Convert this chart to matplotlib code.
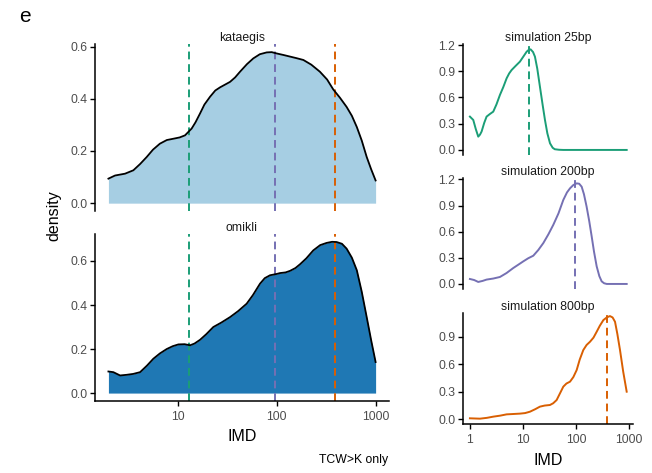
import numpy as np
import matplotlib
matplotlib.use('Agg')
import matplotlib.pyplot as plt

plt.rcParams['font.family'] = ['Liberation Sans', 'DejaVu Sans']

# IMD positions are stored as log10 values, densities as read along each curve
KAT_LOGX = [0.30, 0.367, 0.468, 0.552, 0.62, 0.687, 0.75, 0.82, 0.89, 0.956, 1.02, 1.074,
            1.141, 1.18, 1.226, 1.27, 1.327, 1.38, 1.428, 1.529, 1.58, 1.63, 1.70, 1.764,
            1.83, 1.90, 1.95, 2.0, 2.07, 2.135, 2.20, 2.27, 2.35, 2.437, 2.51, 2.572,
            2.64, 2.707, 2.76, 2.81, 2.86, 2.91, 2.955, 3.0]
KAT_DENS = [0.094, 0.106, 0.113, 0.126, 0.15, 0.177, 0.205, 0.228, 0.242, 0.247, 0.252, 0.26,
            0.286, 0.31, 0.344, 0.378, 0.408, 0.432, 0.444, 0.465, 0.482, 0.504, 0.533, 0.555,
            0.571, 0.578, 0.579, 0.574, 0.568, 0.562, 0.556, 0.549, 0.531, 0.504, 0.474, 0.436,
            0.404, 0.369, 0.335, 0.292, 0.24, 0.177, 0.13, 0.087]

OMK_LOGX = [0.30, 0.35, 0.418, 0.485, 0.55, 0.62, 0.69, 0.754, 0.82, 0.889, 0.95, 1.007,
            1.07, 1.125, 1.17, 1.226, 1.29, 1.36, 1.44, 1.529, 1.61, 1.697, 1.76, 1.832,
            1.88, 1.933, 2.0, 2.034, 2.09, 2.135, 2.19, 2.236, 2.30, 2.37, 2.44, 2.505,
            2.56, 2.606, 2.66, 2.707, 2.76, 2.81, 2.86, 2.91, 2.955, 3.0]
OMK_DENS = [0.098, 0.095, 0.080, 0.083, 0.087, 0.095, 0.125, 0.156, 0.18, 0.20, 0.213, 0.221,
            0.222, 0.217, 0.225, 0.242, 0.268, 0.30, 0.32, 0.345, 0.372, 0.406, 0.445, 0.497,
            0.522, 0.535, 0.541, 0.545, 0.548, 0.555, 0.568, 0.585, 0.612, 0.648, 0.672, 0.682,
            0.687, 0.686, 0.678, 0.656, 0.615, 0.558, 0.46, 0.345, 0.24, 0.141]

SIM25_LOGX = [0.0, 0.063, 0.11, 0.157, 0.19, 0.22, 0.27, 0.314, 0.377, 0.44, 0.50, 0.566,
              0.63, 0.692, 0.74, 0.786, 0.86, 0.943, 1.01, 1.07, 1.11, 1.145, 1.19, 1.226,
              1.27, 1.32, 1.37, 1.415, 1.46, 1.51, 1.56, 1.60, 1.68, 1.76, 2.4, 2.956]
SIM25_DENS = [0.381, 0.343, 0.24, 0.152, 0.175, 0.21, 0.31, 0.381, 0.411, 0.438, 0.52, 0.629,
              0.72, 0.819, 0.875, 0.914, 0.96, 1.01, 1.07, 1.124, 1.145, 1.15, 1.12, 1.067,
              0.93, 0.724, 0.52, 0.343, 0.19, 0.076, 0.025, 0.008, 0.002, 0.0, 0.0, 0.0]

SIM200_LOGX = [0.0, 0.08, 0.157, 0.24, 0.314, 0.44, 0.566, 0.69, 0.818, 0.91, 1.006, 1.10,
               1.195, 1.29, 1.384, 1.48, 1.572, 1.67, 1.761, 1.83, 1.887, 1.95, 2.013, 2.06,
               2.107, 2.15, 2.20, 2.25, 2.296, 2.34, 2.39, 2.44, 2.484, 2.53, 2.58, 2.956]
SIM200_DENS = [0.057, 0.045, 0.023, 0.035, 0.05, 0.062, 0.08, 0.125, 0.183, 0.22, 0.259, 0.295,
               0.324, 0.39, 0.469, 0.57, 0.678, 0.81, 0.964, 1.05, 1.097, 1.135, 1.154, 1.15,
               1.116, 1.03, 0.888, 0.72, 0.545, 0.37, 0.202, 0.09, 0.03, 0.008, 0.0, 0.0]

SIM800_LOGX = [0.0, 0.189, 0.32, 0.44, 0.57, 0.692, 0.82, 0.943, 1.04, 1.132, 1.23, 1.32,
               1.41, 1.509, 1.57, 1.635, 1.70, 1.761, 1.82, 1.887, 1.95, 2.013, 2.07, 2.138,
               2.20, 2.264, 2.33, 2.39, 2.45, 2.516, 2.58, 2.64, 2.69, 2.736, 2.78, 2.83,
               2.89, 2.956]
SIM800_DENS = [0.011, 0.007, 0.016, 0.029, 0.04, 0.054, 0.058, 0.062, 0.068, 0.083, 0.11, 0.138,
               0.15, 0.156, 0.175, 0.21, 0.285, 0.356, 0.39, 0.41, 0.46, 0.537, 0.65, 0.755,
               0.81, 0.845, 0.89, 0.954, 1.02, 1.081, 1.11, 1.125, 1.11, 1.063, 0.93, 0.755,
               0.52, 0.301]

# modes of the three simulated IMD distributions
MODE_IMD = [13, 97, 385]
MODE_COLORS = ['#1b9e77', '#7570b3', '#d95f02']
SIM_TITLES = ['simulation 25bp', 'simulation 200bp', 'simulation 800bp']

TICK_GREY = '#4d4d4d'
DASH = (0, (4, 2.5))
SMALL = 8.8


def style_axis(ax, show_x):
    for spine in ['top', 'right']:
        ax.spines[spine].set_visible(False)
    ax.spines['left'].set_linewidth(1.1)
    ax.spines['bottom'].set_linewidth(1.1)
    ax.tick_params(axis='both', labelsize=SMALL, labelcolor=TICK_GREY,
                   width=1.0, length=3.5, pad=2)
    ax.tick_params(axis='x', pad=3.5)
    ax.set_xscale('log')
    ax.minorticks_off()
    if not show_x:
        ax.spines['bottom'].set_visible(False)
        ax.tick_params(axis='x', bottom=False, labelbottom=False)


def left_panel(ax, logx, dens, fill, title, ylim, yticks):
    x = np.power(10.0, logx)
    ax.fill_between(x, 0, dens, color=fill, lw=0, zorder=1)
    ax.plot(x, dens, color='black', lw=1.3, zorder=3)
    for imd, col in zip(MODE_IMD, MODE_COLORS):
        ax.axvline(imd, color=col, lw=1.4, linestyle=DASH, zorder=2)
    ax.set_xlim(1.46, 1365)
    ax.set_ylim(*ylim)
    ax.set_yticks(yticks)
    ax.set_yticklabels(['{:.1f}'.format(v) for v in yticks])
    ax.set_title(title, fontsize=SMALL, pad=1.0, color='#1a1a1a')


def right_panel(ax, logx, dens, color, mode, title, ylim, yticks):
    x = np.power(10.0, logx)
    ax.plot(x, dens, color=color, lw=1.4, zorder=3)
    ax.axvline(mode, color=color, lw=1.4, linestyle=DASH, zorder=2)
    ax.set_xlim(0.74, 1190)
    ax.set_ylim(*ylim)
    ax.set_yticks(yticks)
    ax.set_yticklabels(['{:.1f}'.format(v) for v in yticks])
    ax.set_title(title, fontsize=SMALL, pad=1.0, color='#1a1a1a')


def main():
    fig = plt.figure(figsize=(6.52, 4.73), dpi=100)

    ax_kat = fig.add_axes([0.1457, 0.5545, 0.4509, 0.3518])
    ax_omk = fig.add_axes([0.1457, 0.1522, 0.4509, 0.3524])
    left_panel(ax_kat, KAT_LOGX, KAT_DENS, '#a6cee3', 'kataegis',
               (-0.029, 0.609), [0.0, 0.2, 0.4, 0.6])
    left_panel(ax_omk, OMK_LOGX, OMK_DENS, '#1f78b4', 'omikli',
               (-0.036, 0.721), [0.0, 0.2, 0.4, 0.6])
    style_axis(ax_kat, show_x=False)
    style_axis(ax_omk, show_x=True)
    ax_omk.set_xticks([10, 100, 1000])
    ax_omk.set_xticklabels(['10', '100', '1000'])
    ax_omk.set_xlabel('IMD', fontsize=11.5, labelpad=4.5)

    fig.text(0.083, 0.545, 'density', rotation=90, fontsize=11.5,
             ha='center', va='center')
    fig.text(0.596, 0.027, 'TCW>K only', fontsize=SMALL, ha='right', va='center')
    fig.text(0.03, 0.965, 'e', fontsize=15, ha='left', va='center')

    sims = [(SIM25_LOGX, SIM25_DENS, (-0.058, 1.208), [0.0, 0.3, 0.6, 0.9, 1.2]),
            (SIM200_LOGX, SIM200_DENS, (-0.058, 1.212), [0.0, 0.3, 0.6, 0.9, 1.2]),
            (SIM800_LOGX, SIM800_DENS, (-0.051, 1.155), [0.0, 0.3, 0.6, 0.9])]
    bottoms = [0.6723, 0.389, 0.1036]
    for i, (lx, dn, yl, yt) in enumerate(sims):
        ax = fig.add_axes([0.7101, bottoms[i], 0.2608, 0.234])
        right_panel(ax, lx, dn, MODE_COLORS[i], MODE_IMD[i], SIM_TITLES[i], yl, yt)
        style_axis(ax, show_x=(i == 2))
        if i == 2:
            ax.set_xticks([1, 10, 100, 1000])
            ax.set_xticklabels(['1', '10', '100', '1000'])
            ax.set_xlabel('IMD', fontsize=11.5, labelpad=5)

    fig.savefig('out.png', dpi=100, facecolor='white')
    plt.close(fig)


if __name__ == "__main__":
    main()
